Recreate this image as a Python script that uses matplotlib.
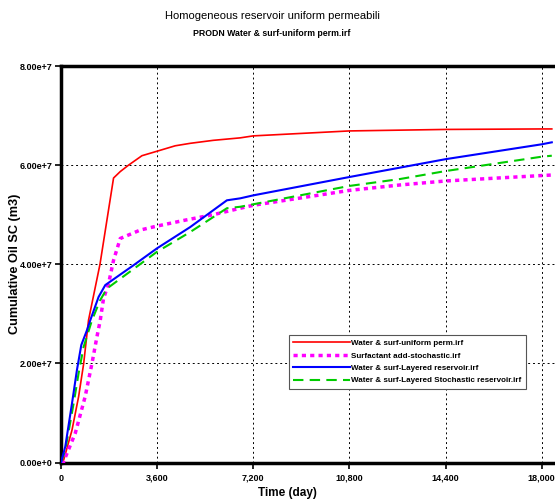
import numpy as np
import matplotlib
matplotlib.use("Agg")
import matplotlib.pyplot as plt
from matplotlib.ticker import FuncFormatter, MultipleLocator

plt.rcParams['font.family'] = ['Liberation Sans', 'DejaVu Sans']

# cumulative oil (units of 1e7 m3) vs time (day) for each run
t_uniform = [0, 100, 410, 660, 850, 1030, 1460, 1968, 2219, 2530, 3031, 3592, 4277,
             4840, 5700, 6710, 7200, 10800, 14400, 18000, 18380]
q_uniform = [0, 0.05, 0.65, 1.33, 2.0, 2.87, 4.0, 5.74, 5.87, 6.0, 6.19, 6.28, 6.39,
             6.44, 6.5, 6.55, 6.59, 6.69, 6.72, 6.73, 6.73]

t_stoch = [0, 90, 160, 534, 905, 1160, 1347, 1470, 1590, 1712, 1781, 1968, 2219, 2967,
           3592, 4651, 5700, 6712, 7200, 10800, 12700, 14400, 18000, 18380]
q_stoch = [0, 0, 0.1, 0.59, 1.33, 2.0, 2.54, 2.87, 3.3, 3.5, 3.61, 4.08, 4.52, 4.69,
           4.77, 4.89, 5.0, 5.13, 5.19, 5.49, 5.6, 5.68, 5.79, 5.8]

t_layered = [0, 160, 411, 598, 760, 973, 1096, 1407, 1658, 2717, 3592, 4838, 6212, 6712,
             7200, 10800, 12700, 14400, 18000, 18380]
q_layered = [0, 0.32, 1.19, 1.87, 2.37, 2.67, 2.87, 3.34, 3.58, 3.98, 4.32, 4.75, 5.29, 5.33,
             5.39, 5.76, 5.95, 6.12, 6.42, 6.46]

t_layered_st = [0, 160, 472, 659, 846, 1160, 1462, 1721, 3592, 4838, 6212, 6712, 7200,
                10800, 12700, 14400, 18000, 18380]
q_layered_st = [0, 0.25, 1.19, 1.8, 2.33, 2.87, 3.27, 3.51, 4.25, 4.65, 5.13, 5.16, 5.21,
                5.58, 5.72, 5.88, 6.17, 6.19]

labels = ["Water & surf-uniform perm.irf",
          "Surfactant add-stochastic.irf",
          "Water & surf-Layered reservoir.irf",
          "Water & surf-Layered Stochastic reservoir.irf"]


def sci_label(v, pos):
    if v == 0:
        return "0.00e+0"
    e = int(np.floor(np.log10(abs(v))))
    return f"{v / 10**e:.2f}e+{e}"


fig = plt.figure(figsize=(5.55, 5.04), dpi=100)
ax = fig.add_axes([61 / 555, 41.5 / 504, 494 / 555, 396.5 / 504])

scale = 1e7
ax.plot(t_uniform, np.array(q_uniform) * scale, color='#ff0000', lw=1.2, label=labels[0], zorder=3)
ax.plot(t_stoch, np.array(q_stoch) * scale, color='#ff00ff', lw=2.5, ls=(0, (1.2, 1.2)),
        label=labels[1], zorder=3)
ax.plot(t_layered, np.array(q_layered) * scale, color='#0000ff', lw=1.5, label=labels[2], zorder=4)
ax.plot(t_layered_st, np.array(q_layered_st) * scale, color='#00cc00', lw=1.5, ls=(0, (5, 3)),
        label=labels[3], zorder=3)

ax.set_xlim(0, 18500)
ax.set_ylim(0, 8e7)
ax.xaxis.set_major_locator(MultipleLocator(3600))
ax.yaxis.set_major_locator(MultipleLocator(2e7))
ax.xaxis.set_major_formatter(FuncFormatter(lambda v, p: f"{int(v):,}"))
ax.yaxis.set_major_formatter(FuncFormatter(sci_label))

ax.grid(True, color='black', ls=(0, (2, 3)), lw=0.7)
for side in ['left', 'bottom', 'top']:
    ax.spines[side].set_linewidth(2.5)
ax.spines['right'].set_visible(False)
ax.tick_params(direction='out', length=4, width=1.2, labelsize=6.5, pad=2)
ax.tick_params(axis='x', pad=4)
for lbl in ax.get_xticklabels() + ax.get_yticklabels():
    lbl.set_fontweight('bold')

ax.set_xlabel("Time (day)", fontsize=8.5, fontweight='bold')
ax.xaxis.set_label_coords(0.4575, -0.062)
ax.set_ylabel("Cumulative Oil SC (m3)", fontsize=9.2, fontweight='bold')
ax.yaxis.set_label_coords(-0.081, 0.5)

fig.text(272 / 555, 1 - 16 / 504, "Homogeneous reservoir uniform permeabili",
         ha='center', va='center', fontsize=8)
fig.text(272 / 555, 1 - 33 / 504, "PRODN Water & surf-uniform perm.irf",
         ha='center', va='center', fontsize=6.3, fontweight='bold')

leg = ax.legend(loc='upper left', bbox_to_anchor=(0.4615, 0.3216), borderaxespad=0,
                handlelength=7.0, handletextpad=0.2, labelspacing=0.6,
                borderpad=0.55, fancybox=False, framealpha=1, edgecolor='#555555',
                prop={'weight': 'bold', 'size': 5.8})
leg.get_frame().set_linewidth(0.8)
leg.set_zorder(10)

fig.savefig("out.png", dpi=100)
